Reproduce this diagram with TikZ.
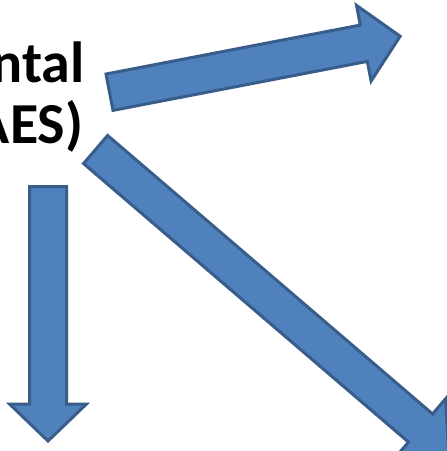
\documentclass[tikz,border=0pt]{standalone}
\usepackage{fontspec}
\setmainfont{Carlito}
\usepackage{tikz}
\usetikzlibrary{positioning}

\definecolor{arrowfill}{HTML}{4F81BD}
\definecolor{arrowline}{HTML}{385D8A}

% block arrow: tail x, tail y, angle, length
\newcommand{\blockarrow}[4]{%
  \begin{scope}[shift={(#1,#2)}, rotate=#3]
    \draw[bigarrow] (0,-18.5) -- (#4-37,-18.5) -- (#4-37,-38.5) -- (#4,0)
      -- (#4-37,38.5) -- (#4-37,18.5) -- (0,18.5) -- cycle;
  \end{scope}}

\tikzset{
  bigarrow/.style={fill=arrowfill, draw=arrowline, line width=3pt, line join=miter},
  title/.style={font=\fontsize{58}{70}\selectfont\bfseries, inner sep=0pt, anchor=base east}
}

\begin{document}
\begin{tikzpicture}[x=1pt, y=1pt]
\useasboundingbox (0,0) rectangle (447,-451);
\clip (0,0) rectangle (447,-451);

% ── title, cut off at the left edge ──────────────────────────
\node[title] (line1) at (85,-82) {ntal};
\node[title] (line2) at (83.5,-143) {AES)};

% ── three block arrows ────────────────────────────────────────
\blockarrow{109.5}{-92.2}{10.9}{296}
\blockarrow{48}{-186.5}{-90}{254.5}
\blockarrow{95.6}{-149.5}{-40.6}{465}

\end{tikzpicture}
\end{document}
